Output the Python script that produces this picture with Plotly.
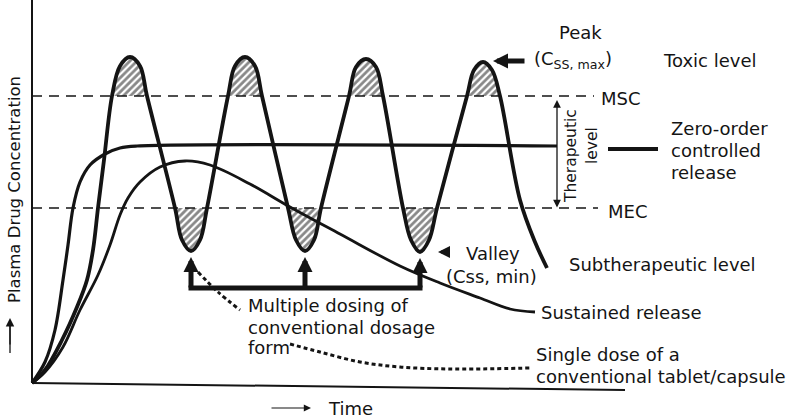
import plotly.graph_objects as go

# ---------------- data (arbitrary units: time, plasma concentration) ----------------
msc_level = 28.7      # maximum safe concentration
mec_level = 17.5      # minimum effective concentration

multi_t = [0, 1.3, 3.0, 4.5, 5.5, 6.1, 6.6, 7.2, 8.0, 8.8, 9.8, 10.8, 11.5,
           14.3, 15.0, 15.9, 16.8, 17.5,
           19.6, 20.3, 21.3, 22.3, 23.0,
           25.6, 26.4, 27.3, 28.2, 28.9,
           31.7, 32.4, 33.4, 34.4, 35.1,
           37.1, 37.9, 38.8, 39.7, 40.5,
           43.5, 44.2, 45.1, 46.0, 46.8,
           48.8, 50.3, 51.5]
multi_c = [0, 1.3, 4.3, 7.6, 10.3, 13.3, 17.5, 22.3, 28.7, 31.7, 32.6, 31.7, 28.7,
           17.5, 14.3, 13.2, 14.3, 17.5,
           28.7, 31.7, 32.6, 31.7, 28.7,
           17.5, 14.3, 13.2, 14.3, 17.5,
           28.7, 31.6, 32.4, 31.6, 28.7,
           17.5, 14.3, 13.1, 14.3, 17.5,
           28.7, 31.3, 32.1, 31.3, 28.7,
           18.3, 14.1, 11.5]

zero_t = [0, 1.3, 2.3, 3.1, 3.6, 4.1, 4.8, 5.8, 7.3, 8.8, 10.5, 52.5]
zero_c = [0, 2.1, 5.3, 10.3, 13.8, 17.5, 20.1, 21.8, 22.9, 23.5, 23.7, 23.7]

sr_t = [0, 1.3, 3.1, 4.8, 6.6, 7.8, 8.8, 9.6, 10.8, 12.8, 15.3, 17.8, 21.8,
        25.8, 30.8, 36.8, 40.8, 44.8, 47.8, 50.3]
sr_c = [0, 1.1, 3.6, 7.3, 10.8, 13.8, 16.8, 18.5, 20.1, 21.6, 22.2, 21.8, 19.9,
        17.6, 14.9, 11.7, 10.0, 8.5, 7.4, 7.1]

single_t = [25.8, 28.8, 32.8, 36.8, 41.8, 49.8]
single_c = [3.9, 3.1, 2.1, 1.6, 1.4, 1.5]

pointer_t = [16.6, 18.6, 20.8]
pointer_c = [11.1, 9.1, 7.3]

# ---------------- layout helpers (pixel position -> axis units) ----------------
def X(px):
    return (px - 32) / 10.0

def Y(py):
    return (383 - py) / 10.0

INK = "#141414"
FONT = dict(family="DejaVu Sans", size=18, color=INK)

fig = go.Figure()

# hatched regions above MSC and below MEC, taken from the multiple-dose curve
def groups(pred):
    out, cur = [], []
    for t, c in zip(multi_t, multi_c):
        if pred(c):
            cur.append((t, c))
        else:
            if cur:
                out.append(cur)
            cur = []
    if cur:
        out.append(cur)
    return out

regions = []
for g in groups(lambda c: c >= msc_level - 1e-9):
    if len(g) >= 3:
        regions.append(g)
for g in groups(lambda c: c <= mec_level + 1e-9):
    if len(g) >= 3 and abs(g[0][1] - mec_level) < 1e-6 and abs(g[-1][1] - mec_level) < 1e-6:
        regions.append(g)

for g in regions:
    fig.add_trace(go.Scatter(
        x=[p[0] for p in g], y=[p[1] for p in g], mode="lines",
        line=dict(width=0, shape="spline", color=INK), fill="toself",
        fillpattern=dict(shape="/", fgcolor="#111111", bgcolor="white", size=5, solidity=0.55),
        hoverinfo="skip", showlegend=False))

# MSC / MEC dashed lines
fig.add_trace(go.Scatter(x=[0, X(594)], y=[msc_level, msc_level], mode="lines",
                         line=dict(color=INK, width=1.4, dash="10px,7px"), showlegend=False))
fig.add_trace(go.Scatter(x=[0, X(598)], y=[mec_level, mec_level], mode="lines",
                         line=dict(color=INK, width=1.4, dash="10px,7px"), showlegend=False))

# curves
fig.add_trace(go.Scatter(x=zero_t, y=zero_c, mode="lines",
                         line=dict(color=INK, width=3.2, shape="spline"), showlegend=False))
fig.add_trace(go.Scatter(x=sr_t, y=sr_c, mode="lines",
                         line=dict(color=INK, width=2.8, shape="spline"), showlegend=False))
fig.add_trace(go.Scatter(x=multi_t, y=multi_c, mode="lines",
                         line=dict(color=INK, width=3.8, shape="spline"), showlegend=False))
fig.add_trace(go.Scatter(x=single_t, y=single_c, mode="lines",
                         line=dict(color=INK, width=3, shape="spline", dash="4px,3px"),
                         showlegend=False))
fig.add_trace(go.Scatter(x=pointer_t, y=pointer_c, mode="lines",
                         line=dict(color=INK, width=3, shape="spline", dash="4px,3px"),
                         showlegend=False))

# valleys / last peak from data
valleys = [i for i in range(1, len(multi_c) - 1)
           if multi_c[i] < multi_c[i - 1] and multi_c[i] < multi_c[i + 1]]
peaks = [i for i in range(1, len(multi_c) - 1)
         if multi_c[i] > multi_c[i - 1] and multi_c[i] > multi_c[i + 1]]

bar_level = Y(288)
vt = [multi_t[i] for i in valleys]
fig.add_trace(go.Scatter(x=[vt[0] - 0.25, vt[-1] + 0.25], y=[bar_level, bar_level], mode="lines",
                         line=dict(color=INK, width=5), showlegend=False))

# axes
shapes = [
    dict(type="line", xref="x", yref="y", x0=0, y0=0, x1=0, y1=38.5,
         line=dict(color=INK, width=2)),
    dict(type="line", xref="x", yref="y", x0=0, y0=0, x1=X(625), y1=Y(390),
         line=dict(color=INK, width=2)),
    dict(type="line", xref="x", yref="y", x0=X(608), y0=Y(149), x1=X(658), y1=Y(149),
         line=dict(color=INK, width=4)),
    # concentration arrow shaft (head drawn as annotation)
    dict(type="line", xref="x", yref="y", x0=X(10), y0=Y(353), x1=X(10), y1=Y(322),
         line=dict(color=INK, width=1.3)),
]

ann = []
def arrow(hx, hy, tx, ty, width, size, head=2, side="end"):
    ann.append(dict(x=hx, y=hy, ax=tx, ay=ty, xref="x", yref="y", axref="x", ayref="y",
                    text="", font=dict(size=1), showarrow=True, arrowhead=head,
                    arrowwidth=width, arrowsize=size, arrowcolor=INK, arrowside=side,
                    startarrowhead=head, startarrowsize=size, borderpad=0))

for i in valleys:
    arrow(multi_t[i], multi_c[i] - 0.6, multi_t[i], bar_level, 5, 0.6)

pk = peaks[-1]
arrow(multi_t[pk] + 1.0, multi_c[pk] + 0.1, multi_t[pk] + 4.2, multi_c[pk] + 0.1, 5, 0.6)
lv = valleys[-1]
arrow(multi_t[lv] + 1.8, multi_c[lv], multi_t[lv] + 3.0, multi_c[lv], 3, 0.8)

# therapeutic range double arrow
arrow(X(557), Y(100), X(557), Y(208), 1.3, 1.2, side="end+start")
# time arrow and concentration arrow
arrow(X(311), Y(408), X(271), Y(408), 1.2, 1.2)
arrow(X(10), Y(318), X(10), Y(345), 1.3, 1.3)

def text(s, px, py, anchor="left", angle=0, size=None):
    f = dict(FONT)
    if size:
        f["size"] = size
    ann.append(dict(x=X(px), y=Y(py), xref="x", yref="y", text=s, showarrow=False,
                    xanchor=anchor, yanchor="middle", textangle=angle, font=f))

text("Peak", 580, 32, anchor="center")
text("(C<sub>SS, max</sub>)", 532, 60)
text("Toxic level", 661, 60)
text("MSC", 599, 98)
text("MEC", 606, 211)
text("Zero-order", 669, 128)
text("controlled", 669, 150)
text("release", 669, 172)
text("Therapeutic", 571, 156, anchor="center", angle=-90, size=15.5)
text("level", 592, 146, anchor="center", angle=-90, size=15.5)
text("Valley", 464, 253)
text("(Css, min)", 444, 276)
text("Subtherapeutic level", 567, 264)
text("Sustained release", 539, 312)
text("Single dose of a", 534, 354)
text("conventional tablet/capsule", 534, 376)
text("Multiple dosing of", 246, 305)
text("conventional dosage", 246, 327)
text("form", 246, 347)
text("Time", 326, 408)
text("Plasma Drug Concentration", 14, 190, anchor="center", angle=-90, size=16.5)

fig.update_layout(
    width=800, height=418, margin=dict(l=0, r=0, t=0, b=0),
    paper_bgcolor="white", plot_bgcolor="white",
    xaxis=dict(range=[X(0), X(800)], visible=False, fixedrange=True),
    yaxis=dict(range=[Y(418), Y(0)], visible=False, fixedrange=True),
    shapes=shapes, annotations=ann, showlegend=False,
)

fig.write_html("out.html")
